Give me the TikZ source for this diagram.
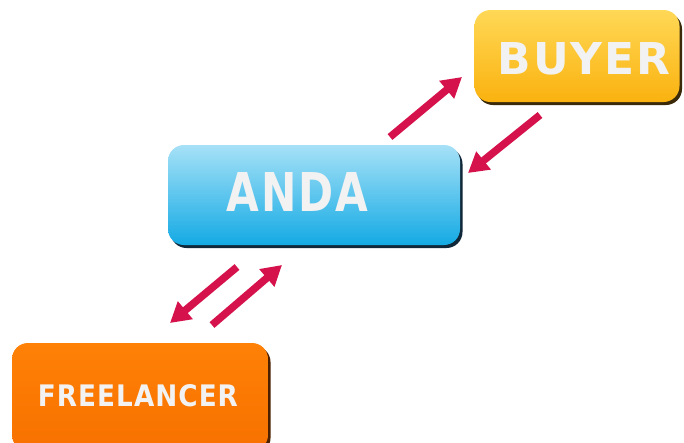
\documentclass[tikz,border=0pt]{standalone}
\usepackage{fontspec}
\setmainfont{DejaVu Sans}
\newfontfamily\lblfont[LetterSpace=4]{DejaVu Sans Bold}
\usetikzlibrary{arrows.meta,shadows}
\definecolor{arrowred}{HTML}{D5124B}
\definecolor{txtwhite}{HTML}{F2F2F2}
\definecolor{buytop}{HTML}{FFD856}
\definecolor{buybot}{HTML}{FAB20F}
\definecolor{buyedge}{HTML}{3A2A0A}
\definecolor{andatop}{HTML}{A6E1F7}
\definecolor{andabot}{HTML}{14AAE4}
\definecolor{andaedge}{HTML}{10283A}
\definecolor{frtop}{HTML}{FF8106}
\definecolor{frbot}{HTML}{F77100}
\definecolor{fredge}{HTML}{4A2000}
\tikzset{
  pill/.style={rounded corners=16pt, inner sep=0pt},
  pilltext/.style={inner sep=0pt, text=txtwhite},
  flowarrow/.style={draw=arrowred, line width=7.5pt,
    -{Triangle[width=22pt,length=20pt]}}
}
\newcommand{\lbl}[3]{\resizebox{#1pt}{#2pt}{\lblfont #3}}
\begin{document}
\begin{tikzpicture}[x=1pt,y=-1pt]
\path[use as bounding box] (0,0) rectangle (684,442);
\clip (0,0) rectangle (684,442);
\fill[white] (0,0) rectangle (684,442);
% boxes
\node[pill, minimum width=205pt, minimum height=92pt,
  top color=buytop, bottom color=buybot,
  drop shadow={shadow xshift=2.5pt, shadow yshift=-3pt, fill=buyedge, opacity=1}]
  (buyer) at (577,56) {};
\node[pill, minimum width=292pt, minimum height=100pt,
  top color=andatop, bottom color=andabot,
  drop shadow={shadow xshift=2.5pt, shadow yshift=-3pt, fill=andaedge, opacity=1}]
  (anda) at (314,195) {};
\node[pill, minimum width=256pt, minimum height=108pt,
  top color=frtop, bottom color=frbot,
  drop shadow={shadow xshift=2.5pt, shadow yshift=-3pt, fill=fredge, opacity=1}]
  (freelancer) at (140,397) {};
% labels
\node[pilltext] (buyerlbl) at (584,59) {\lbl{172}{32}{BUYER}};
\node[pilltext] (andalbl) at (297.5,192) {\lbl{141}{39}{ANDA}};
\node[pilltext] (freelancerlbl) at (138,396) {\lbl{200}{22}{FREELANCER}};
% arrow end points
\coordinate (a1s) at (390,137);
\coordinate (a1e) at (462,77);
\coordinate (a2s) at (540,115);
\coordinate (a2e) at (468,173);
\coordinate (a3s) at (237,267);
\coordinate (a3e) at (170,323);
\coordinate (a4s) at (212,325);
\coordinate (a4e) at (282,265);
\draw[flowarrow] (a1s) -- (a1e);
\draw[flowarrow] (a2s) -- (a2e);
\draw[flowarrow] (a3s) -- (a3e);
\draw[flowarrow] (a4s) -- (a4e);
\end{tikzpicture}
\end{document}
